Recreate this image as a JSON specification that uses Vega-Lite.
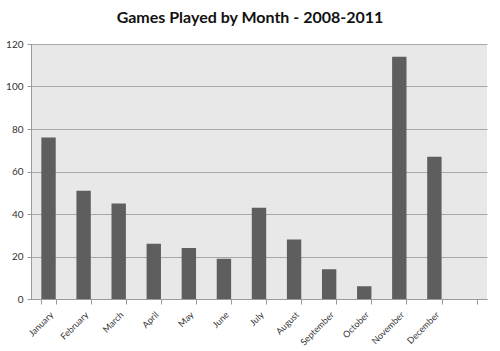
{
  "$schema": "https://vega.github.io/schema/vega-lite/v6.json",
  "width": 456,
  "height": 255,
  "autosize": {"type": "none"},
  "padding": {"left": 31, "top": 44, "right": 13, "bottom": 52},
  "background": "#ffffff",
  "title": {
    "text": "Games Played by Month - 2008-2011",
    "font": "Lato",
    "fontSize": 16,
    "fontWeight": "bold",
    "color": "#111111",
    "anchor": "middle",
    "dx": -9,
    "offset": 13
  },
  "data": {
    "values": [
      {"month": "January", "games": 76},
      {"month": "February", "games": 51},
      {"month": "March", "games": 45},
      {"month": "April", "games": 26},
      {"month": "May", "games": 24},
      {"month": "June", "games": 19},
      {"month": "July", "games": 43},
      {"month": "August", "games": 28},
      {"month": "September", "games": 14},
      {"month": "October", "games": 6},
      {"month": "November", "games": 114},
      {"month": "December", "games": 67}
    ]
  },
  "mark": {"type": "bar", "color": "#5e5e5e"},
  "encoding": {
    "x": {
      "field": "month",
      "type": "nominal",
      "sort": null,
      "scale": {
        "domain": ["January", "February", "March", "April", "May", "June", "July", "August", "September", "October", "November", "December", " "],
        "paddingInner": 0.59,
        "paddingOuter": 0.295
      },
      "axis": {
        "title": null,
        "labelAngle": -45,
        "labelFont": "Lato",
        "labelFontSize": 9,
        "labelColor": "#333333",
        "labelPadding": 6,
        "tickBand": "extent",
        "tickSize": 5,
        "tickColor": "#9a9a9a",
        "domainColor": "#9a9a9a",
        "grid": false
      }
    },
    "y": {
      "field": "games",
      "type": "quantitative",
      "scale": {"domain": [0, 120], "nice": false},
      "axis": {
        "title": null,
        "values": [0, 20, 40, 60, 80, 100, 120],
        "labelFont": "Lato",
        "labelFontSize": 10,
        "labelColor": "#333333",
        "labelPadding": 4,
        "tickSize": 4,
        "tickColor": "#9a9a9a",
        "domainColor": "#9a9a9a",
        "grid": true,
        "gridColor": "#a8a8a8",
        "gridWidth": 1
      }
    }
  },
  "config": {
    "view": {"fill": "#e8e8e8", "stroke": null}
  }
}
